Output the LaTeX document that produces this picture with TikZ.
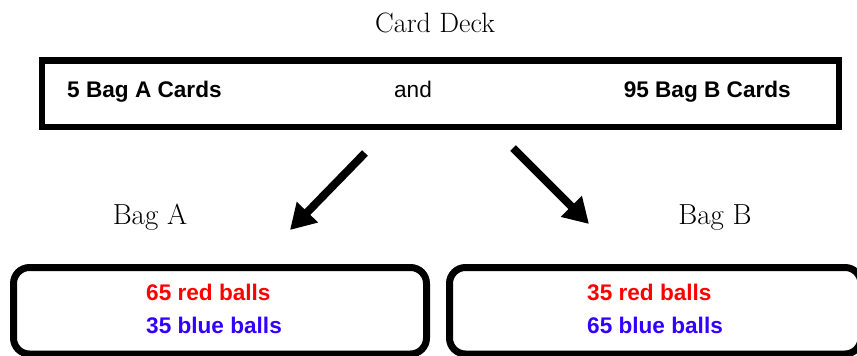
\documentclass[tikz,border=0pt]{standalone}
\usepackage{fontspec}
\setsansfont{Liberation Sans}
\usetikzlibrary{arrows.meta}
\definecolor{ballred}{RGB}{255,0,0}
\definecolor{ballblue}{RGB}{51,0,255}
\tikzset{
  sanslabel/.style={font=\sffamily\bfseries\fontsize{22.6}{26}\selectfont, inner sep=0pt},
  seriflabel/.style={font=\fontsize{28}{32}\selectfont, inner sep=0pt},
  deckbox/.style={draw=black, line width=6.5pt},
  bagbox/.style={draw=black, line width=7pt, rounded corners=16pt},
  bigarrow/.style={line width=8pt, -{Triangle[length=25pt,width=28pt]}}
}
\begin{document}
\begin{tikzpicture}[x=1pt,y=-1pt]
\useasboundingbox (0,0) rectangle (857,356);
\begin{scope}
\clip (0,0) rectangle (857,356);
% title
\node[seriflabel, anchor=base] (title) at (435,32) {Card Deck};
% deck box
\draw[deckbox] (42,60.5) rectangle (839,127);
\node[sanslabel, anchor=base west] (cardsA) at (67,97) {5 Bag A Cards};
\node[font=\sffamily\fontsize{22.6}{26}\selectfont, inner sep=0pt, anchor=base] (and) at (413,97) {and};
\node[sanslabel, anchor=base east] (cardsB) at (791,97) {95 Bag B Cards};
% arrows
\coordinate (a1) at (365,153);
\coordinate (a2) at (290,230);
\coordinate (b1) at (513,148);
\coordinate (b2) at (589,224);
\draw[bigarrow] (a1) -- (a2);
\draw[bigarrow] (b1) -- (b2);
% bag labels
\node[seriflabel, font=\fontsize{29}{33}\selectfont, anchor=base] (bagA) at (150,224) {Bag A};
\node[seriflabel, font=\fontsize{29}{33}\selectfont, anchor=base] (bagB) at (715,224) {Bag B};
% bag boxes
\draw[bagbox] (13.5,267.5) rectangle (426.5,354);
\draw[bagbox] (449.5,267.5) rectangle (861,354);
\node[sanslabel, text=ballred, anchor=base west] (ar) at (146,300) {65 red balls};
\node[sanslabel, text=ballblue, anchor=base west] (ab) at (146,333) {35 blue balls};
\node[sanslabel, text=ballred, anchor=base west] (br) at (587,300) {35 red balls};
\node[sanslabel, text=ballblue, anchor=base west] (bb) at (587,333) {65 blue balls};
\end{scope}
\end{tikzpicture}
\end{document}
